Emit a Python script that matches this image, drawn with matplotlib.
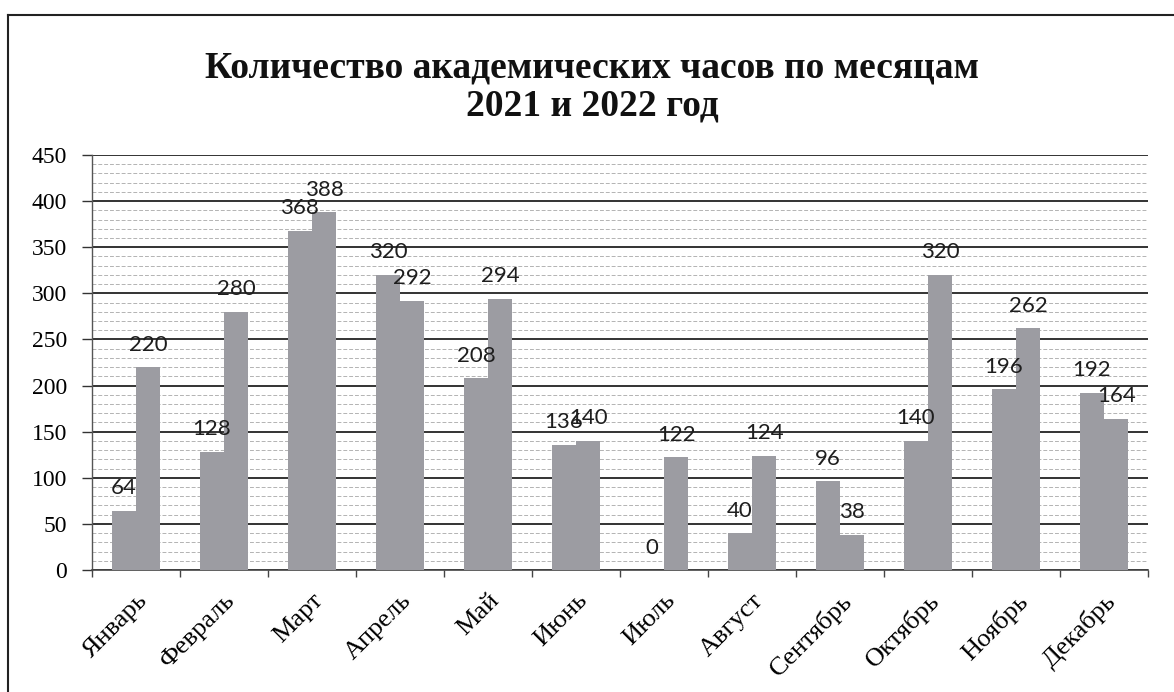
import matplotlib
matplotlib.use("Agg")
import matplotlib.pyplot as plt
from matplotlib.lines import Line2D
import numpy as np

months = ["Январь", "Февраль", "Март", "Апрель", "Май", "Июнь", "Июль",
          "Август", "Сентябрь", "Октябрь", "Ноябрь", "Декабрь"]
hours_2021 = [64, 128, 368, 320, 208, 136, 0, 40, 96, 140, 196, 192]
hours_2022 = [220, 280, 388, 292, 294, 140, 122, 124, 38, 320, 262, 164]
yticks = [0, 50, 100, 150, 200, 250, 300, 350, 400, 450]
title_line1 = "Количество академических часов по месяцам"
title_line2 = "2021 и 2022 год"

serif = ["Liberation Serif", "DejaVu Serif"]
plt.rcParams["font.family"] = serif

W, H = 1174, 692
fig = plt.figure(figsize=(W / 100, H / 100), dpi=100)
fig.patch.set_facecolor("white")

left, right, top, bottom = 92, 1148, 155, 570
ax = fig.add_axes([left / W, 1 - bottom / H, (right - left) / W, (bottom - top) / H])

x = np.arange(len(months))
bw = 0.275
bar_color = "#9c9ca2"
b1 = ax.bar(x - bw / 2, hours_2021, width=bw, color=bar_color, zorder=3)
b2 = ax.bar(x + bw / 2, hours_2022, width=bw, color=bar_color, zorder=3)

for rects, vals in ((b1, hours_2021), (b2, hours_2022)):
    for r, v in zip(rects, vals):
        ax.annotate(str(v), (r.get_x() + r.get_width() / 2, v),
                    xytext=(0, 9), textcoords="offset points",
                    ha="center", va="bottom", zorder=5,
                    fontfamily=["Lato", "DejaVu Sans"], fontsize=16,
                    color="#1e1e1e")

ax.set_xlim(-0.5, len(months) - 0.5)
ax.set_ylim(0, 450)
ax.set_yticks(yticks)
ax.set_yticks(np.arange(0, 451, 10), minor=True)
ax.grid(axis="y", which="major", color="#333333", linewidth=1.4, zorder=0)
ax.grid(axis="y", which="minor", color="#8a8a8a", linewidth=0.7,
        linestyle=(0, (4, 2)), alpha=0.65, zorder=0)

ax.set_yticklabels([str(t) for t in yticks])
ax.tick_params(axis="y", which="major", length=7, width=1.0, pad=11,
               color="#333333", labelsize=17)
ax.tick_params(axis="y", which="minor", length=0)

ax.set_xticks(x)
ax.set_xticklabels(months, rotation=45, ha="right", rotation_mode="anchor")
ax.tick_params(axis="x", which="major", length=0, pad=14, labelsize=19)
ax.set_xticks(np.arange(-0.5, len(months) + 0.5, 1), minor=True)
ax.tick_params(axis="x", which="minor", length=5, width=1.0, color="#444444")

for s in ("top", "right"):
    ax.spines[s].set_visible(False)
ax.spines["left"].set_color("#555555")
ax.spines["left"].set_linewidth(1.0)
ax.spines["bottom"].set_color("#444444")
ax.spines["bottom"].set_linewidth(1.2)

fig.text(592 / W, 1 - 77 / H, title_line1, ha="center", va="baseline",
         fontweight="bold", fontsize=27, color="#111111")
fig.text(592 / W, 1 - 115 / H, title_line2, ha="center", va="baseline",
         fontweight="bold", fontsize=27, color="#111111")

fig.lines.append(Line2D([8 / W, 8 / W], [0, 1 - 15 / H], transform=fig.transFigure,
                        color="#222222", linewidth=1.5))
fig.lines.append(Line2D([8 / W, 1], [1 - 15 / H, 1 - 15 / H], transform=fig.transFigure,
                        color="#222222", linewidth=1.5))

fig.savefig("out.png", dpi=100, facecolor="white")
